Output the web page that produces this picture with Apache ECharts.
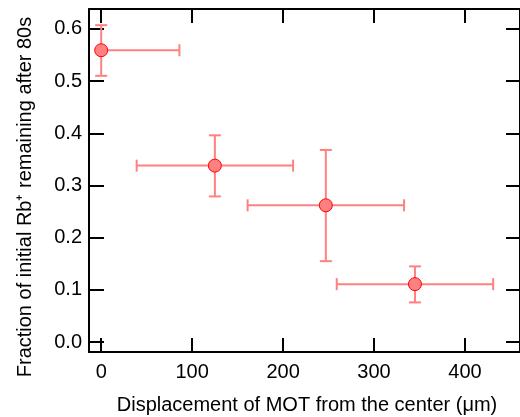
<!DOCTYPE html>
<html>
<head>
<meta charset="utf-8">
<script src="https://cdn.jsdelivr.net/npm/echarts@6/dist/echarts.min.js"></script>
<style>
  html, body { margin: 0; padding: 0; background: #fff; }
  #chart { width: 520px; height: 417px; }
</style>
</head>
<body>
<div id="chart"></div>
<script>
// displacement (um), fraction remaining, and error bars
var xVals = [0, 125, 247, 345];
var yVals = [0.559, 0.338, 0.262, 0.111];
var xErrLow = [0, 86, 86, 86];
var xErrHigh = [86, 86, 86, 86];
var yErrLow = [0.049, 0.059, 0.107, 0.035];
var yErrHigh = [0.048, 0.058, 0.106, 0.034];
var xTicks = [0, 100, 200, 300, 400];
var yTicks = [0.0, 0.1, 0.2, 0.3, 0.4, 0.5, 0.6];

var errColor = '#ff8080';
var font = 'Liberation Sans, Arial, sans-serif';

var errData = [];
for (var i = 0; i < xVals.length; i++) {
    errData.push([xVals[i], yVals[i], xVals[i] - xErrLow[i], xVals[i] + xErrHigh[i],
        yVals[i] - yErrLow[i], yVals[i] + yErrHigh[i]]);
}
var pts = xVals.map(function (x, i) { return [x, yVals[i]]; });

function renderErr(params, api) {
    var c = api.coord([api.value(0), api.value(1)]);
    var xl = api.coord([api.value(2), api.value(1)]);
    var xh = api.coord([api.value(3), api.value(1)]);
    var yl = api.coord([api.value(0), api.value(4)]);
    var yh = api.coord([api.value(0), api.value(5)]);
    var cap = 6;
    var st = { stroke: errColor, lineWidth: 2, fill: null };
    var children = [
        { type: 'line', shape: { x1: yl[0], y1: yl[1], x2: yh[0], y2: yh[1] }, style: st },
        { type: 'line', shape: { x1: yl[0] - cap, y1: yl[1], x2: yl[0] + cap, y2: yl[1] }, style: st },
        { type: 'line', shape: { x1: yh[0] - cap, y1: yh[1], x2: yh[0] + cap, y2: yh[1] }, style: st },
        { type: 'line', shape: { x1: xl[0], y1: xl[1], x2: xh[0], y2: xh[1] }, style: st },
        { type: 'line', shape: { x1: xh[0], y1: xh[1] - cap, x2: xh[0], y2: xh[1] + cap }, style: st }
    ];
    if (api.value(2) < api.value(0)) {
        children.push({ type: 'line', shape: { x1: xl[0], y1: xl[1] - cap, x2: xl[0], y2: xl[1] + cap }, style: st });
    }
    return { type: 'group', children: children };
}

var axisLine = { show: true, onZero: false, lineStyle: { color: '#000', width: 2 } };

var option = {
    animation: false,
    grid: { left: 89, top: 9, right: -1, bottom: 65, containLabel: false },
    xAxis: [
        {
            type: 'value', min: -13.4, max: 460.5, position: 'bottom',
            axisLine: axisLine,
            axisTick: { show: true, inside: true, length: 14, lineStyle: { color: '#000', width: 2 }, customValues: xTicks },
            axisLabel: { color: '#000', fontSize: 20, fontFamily: font, margin: 10, customValues: xTicks },
            splitLine: { show: false }
        },
        {
            type: 'value', min: -13.4, max: 460.5, position: 'top',
            axisLine: axisLine,
            axisTick: { show: true, inside: true, length: 14, lineStyle: { color: '#000', width: 2 }, customValues: xTicks },
            axisLabel: { show: false },
            splitLine: { show: false }
        }
    ],
    yAxis: [
        {
            type: 'value', min: -0.019, max: 0.638, position: 'left',
            axisLine: axisLine,
            axisTick: { show: true, inside: true, length: 15, lineStyle: { color: '#000', width: 2 }, customValues: yTicks },
            axisLabel: { color: '#000', fontSize: 20, fontFamily: font, margin: 7, customValues: yTicks,
                formatter: function (v) { return v.toFixed(1); } },
            splitLine: { show: false }
        },
        {
            type: 'value', min: -0.019, max: 0.638, position: 'right',
            axisLine: axisLine,
            axisTick: { show: true, inside: true, length: 14, lineStyle: { color: '#000', width: 2 }, customValues: yTicks },
            axisLabel: { show: false },
            splitLine: { show: false }
        }
    ],
    graphic: [
        { type: 'text', x: 25, y: 197, rotation: Math.PI / 2,
          style: { text: 'Fraction of initial Rb\u207A remaining after 80s', fontSize: 20, fontFamily: font,
                   fill: '#000', textAlign: 'center', textVerticalAlign: 'middle' } },
        { type: 'text', x: 307, y: 405,
          style: { text: 'Displacement of MOT from the center (\u03BCm)', fontSize: 20, fontFamily: font,
                   fill: '#000', textAlign: 'center', textVerticalAlign: 'middle' } }
    ],
    series: [
        {
            type: 'custom', renderItem: renderErr, data: errData, clip: true,
            encode: { x: [0, 2, 3], y: [1, 4, 5] }, z: 2
        },
        {
            type: 'scatter', data: pts, symbol: 'circle', symbolSize: 13, z: 3,
            itemStyle: { color: errColor, borderColor: '#ff0000', borderWidth: 1, opacity: 1 }
        }
    ]
};

var myChart = echarts.init(document.getElementById('chart'));
myChart.setOption(option);
</script>
</body>
</html>
